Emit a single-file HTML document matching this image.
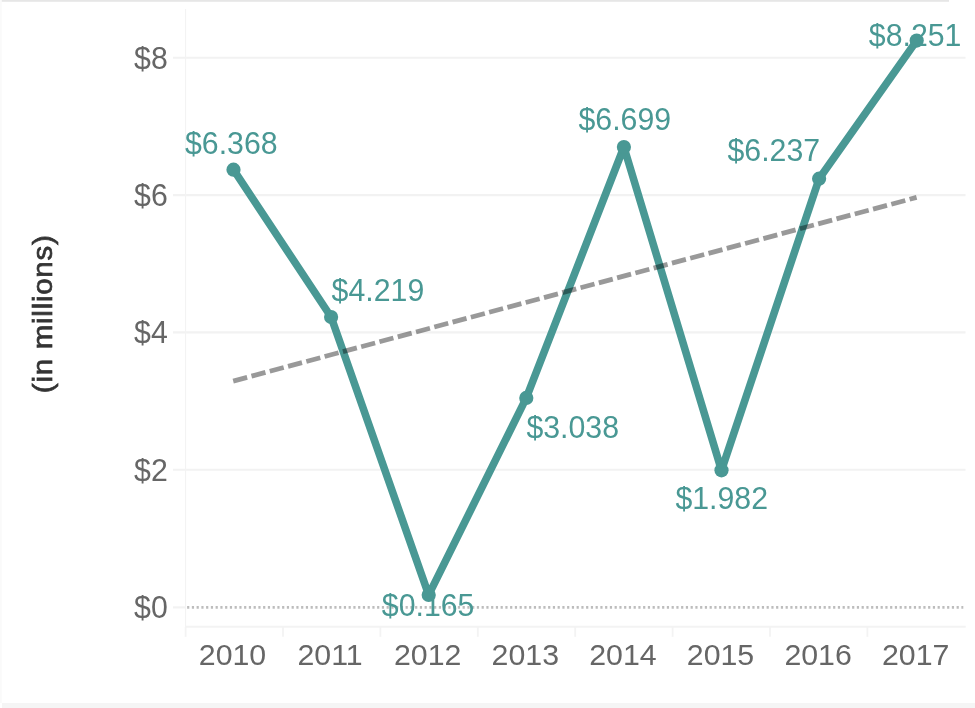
<!DOCTYPE html>
<html><head><meta charset="utf-8"><title>Chart</title>
<style>
html,body{margin:0;padding:0;background:#fff;}
body{width:975px;height:708px;overflow:hidden;font-family:"Liberation Sans",sans-serif;}
svg{display:block}
text{font-family:"Liberation Sans",sans-serif;}
.ax{fill:#666;font-size:30.3px;}
.lb{fill:#499894;font-size:30.3px;}
.ttl{fill:#333;font-size:27.6px;stroke:#333;stroke-width:0.7px;letter-spacing:0.68px;}
</style></head><body>
<svg width="975" height="708" viewBox="0 0 975 708">
<rect x="0" y="0" width="975" height="708" fill="#fff"/>
<rect x="0" y="0" width="949" height="1.8" fill="#e6e6e6"/>
<rect x="0" y="0" width="1.8" height="703" fill="#fafafa"/>
<rect x="2" y="703" width="973" height="5" fill="#f5f5f5"/>

<line x1="173" y1="607.4" x2="185.6" y2="607.4" stroke="#f2f2f2" stroke-width="2.1"/>
<line x1="173" y1="469.8" x2="965.5" y2="469.8" stroke="#f2f2f2" stroke-width="2.1"/>
<line x1="173" y1="332.4" x2="965.5" y2="332.4" stroke="#f2f2f2" stroke-width="2.1"/>
<line x1="173" y1="195.1" x2="965.5" y2="195.1" stroke="#f2f2f2" stroke-width="2.1"/>
<line x1="173" y1="57.8" x2="965.5" y2="57.8" stroke="#f2f2f2" stroke-width="2.1"/>
<line x1="185.6" y1="9" x2="185.6" y2="626.8" stroke="#f3f3f3" stroke-width="1.1"/>
<line x1="185" y1="626.8" x2="965.7" y2="626.8" stroke="#f3f3f3" stroke-width="2"/>
<line x1="185.6" y1="626.8" x2="185.6" y2="636.8" stroke="#f3f3f3" stroke-width="1.8"/>
<line x1="283.0" y1="626.8" x2="283.0" y2="636.8" stroke="#f3f3f3" stroke-width="1.8"/>
<line x1="380.4" y1="626.8" x2="380.4" y2="636.8" stroke="#f3f3f3" stroke-width="1.8"/>
<line x1="477.8" y1="626.8" x2="477.8" y2="636.8" stroke="#f3f3f3" stroke-width="1.8"/>
<line x1="575.2" y1="626.8" x2="575.2" y2="636.8" stroke="#f3f3f3" stroke-width="1.8"/>
<line x1="672.6" y1="626.8" x2="672.6" y2="636.8" stroke="#f3f3f3" stroke-width="1.8"/>
<line x1="770.0" y1="626.8" x2="770.0" y2="636.8" stroke="#f3f3f3" stroke-width="1.8"/>
<line x1="867.4" y1="626.8" x2="867.4" y2="636.8" stroke="#f3f3f3" stroke-width="1.8"/>
<line x1="186.9" y1="607.4" x2="963.3" y2="607.4" stroke="#bdbdbd" stroke-width="2.6" stroke-dasharray="2.2 2.55" stroke-dashoffset="-0.2"/>
<text class="ax" transform="translate(167.8,618.1) scale(1,1.035)" text-anchor="end">$0</text>
<text class="ax" transform="translate(167.8,480.8) scale(1,1.035)" text-anchor="end">$2</text>
<text class="ax" transform="translate(167.8,343.4) scale(1,1.035)" text-anchor="end">$4</text>
<text class="ax" transform="translate(167.8,206.1) scale(1,1.035)" text-anchor="end">$6</text>
<text class="ax" transform="translate(167.8,68.8) scale(1,1.035)" text-anchor="end">$8</text>
<text class="ax" x="232.5" y="665.1" text-anchor="middle">2010</text>
<text class="ax" x="330.1" y="665.1" text-anchor="middle">2011</text>
<text class="ax" x="427.7" y="665.1" text-anchor="middle">2012</text>
<text class="ax" x="525.3" y="665.1" text-anchor="middle">2013</text>
<text class="ax" x="622.9" y="665.1" text-anchor="middle">2014</text>
<text class="ax" x="720.5" y="665.1" text-anchor="middle">2015</text>
<text class="ax" x="818.1" y="665.1" text-anchor="middle">2016</text>
<text class="ax" x="915.7" y="665.1" text-anchor="middle">2017</text>
<text class="ttl" transform="translate(52.4,313.8) rotate(-90) scale(1.07,1)" text-anchor="middle">(in millions)</text>
<text class="lb" transform="translate(185.0,154.4) scale(1,1.035)">$6.368</text>
<text class="lb" transform="translate(331.6,300.8) scale(1,1.035)">$4.219</text>
<text class="lb" transform="translate(381.8,616.2) scale(1,1.035)">$0.165</text>
<text class="lb" transform="translate(526.4,437.6) scale(1,1.035)">$3.038</text>
<text class="lb" transform="translate(578.5,130.3) scale(1,1.035)">$6.699</text>
<text class="lb" transform="translate(675.4,508.9) scale(1,1.035)">$1.982</text>
<text class="lb" transform="translate(727.5,160.8) scale(1,1.035)">$6.237</text>
<text class="lb" transform="translate(868.8,45.7) scale(1,1.035)">$8.251</text>
<path d="M233.5,169.7 L331.1,317.0 L428.7,594.9 L526.3,397.9 L623.9,147.0 L721.5,470.3 L819.1,178.7 L916.7,40.6" fill="none" stroke="#499894" stroke-width="7.6" stroke-linejoin="round" stroke-linecap="round"/>
<circle cx="233.5" cy="169.7" r="7.1" fill="#499894"/>
<circle cx="331.1" cy="317.0" r="7.1" fill="#499894"/>
<circle cx="428.7" cy="594.9" r="7.1" fill="#499894"/>
<circle cx="526.3" cy="397.9" r="7.1" fill="#499894"/>
<circle cx="623.9" cy="147.0" r="7.1" fill="#499894"/>
<circle cx="721.5" cy="470.3" r="7.1" fill="#499894"/>
<circle cx="819.1" cy="178.7" r="7.1" fill="#499894"/>
<circle cx="916.7" cy="40.6" r="7.1" fill="#499894"/>
<line x1="233.2" y1="381.1" x2="916.6" y2="197.4" stroke="#000" stroke-opacity="0.4" stroke-width="4.8" stroke-dasharray="14.45 4.48"/>
</svg></body></html>
